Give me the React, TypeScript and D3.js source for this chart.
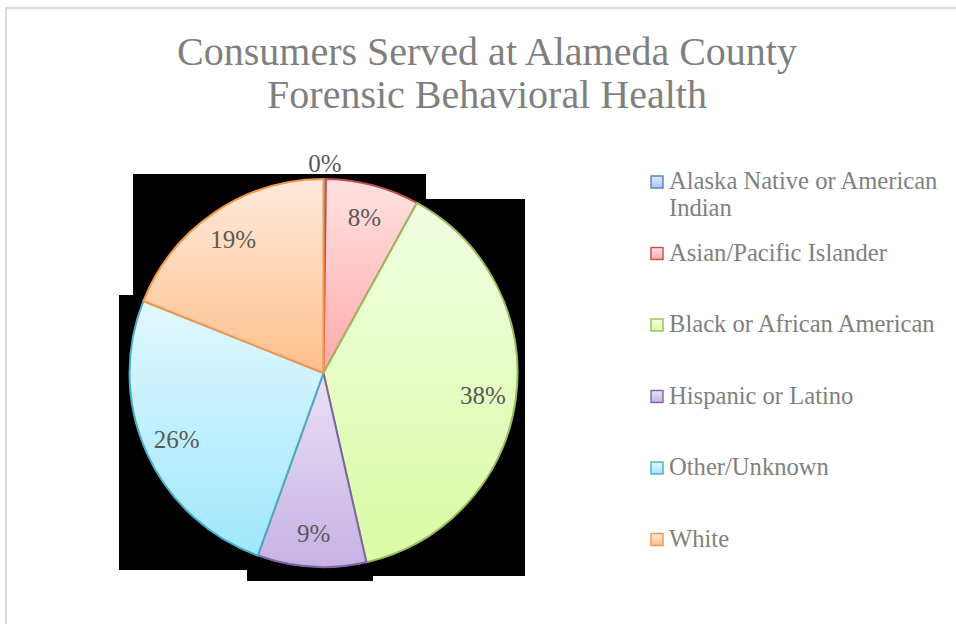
import React from "react";
import * as d3 from "d3";

const categories = [
  "Alaska Native or American Indian",
  "Asian/Pacific Islander",
  "Black or African American",
  "Hispanic or Latino",
  "Other/Unknown",
  "White",
];
const values = [0.2, 7.8, 38.45, 9.05, 25.55, 18.95];
const legendLines = [
  ["Alaska Native or American", "Indian"],
  ["Asian/Pacific Islander"],
  ["Black or African American"],
  ["Hispanic or Latino"],
  ["Other/Unknown"],
  ["White"],
];
const titleLines = ["Consumers Served at Alameda County", "Forensic Behavioral Health"];
const strokeColors = ["#4F81BD", "#C0504D", "#9BBB59", "#8064A2", "#4BACC6", "#F79646"];
const gradTop = ["#dce8fa", "#ffe2e2", "#f1fde2", "#e9e1f5", "#e2f8ff", "#ffeadc"];
const gradBottom = ["#a8c8f4", "#ffa9a9", "#d9fca3", "#c6b2e4", "#9fe7fb", "#fdbf8b"];

const W = 956;
const H = 624;
const cx = 323.5;
const cy = 373;
const R = 194;

export default function App() {
  const total = d3.sum(values);
  const pie = d3.pie<number>().sort(null).value((d) => d);
  const arcs = pie(values);
  const arc = d3.arc<d3.PieArcDatum<number>>().innerRadius(0).outerRadius(R);
  const labelArc = d3.arc<d3.PieArcDatum<number>>().innerRadius(R * 0.83).outerRadius(R * 0.83);
  const fontFamily = "'Liberation Serif', serif";
  const labelSize = 25;

  // black rendering artifact behind the pie (offsets from pie centre)
  const artifact: [number, number][] = [
    [-190.5, -199], [102.5, -199], [102.5, -174], [201.5, -174], [201.5, 203],
    [49.5, 203], [49.5, 208], [-76.5, 208], [-76.5, 197], [-204.5, 197],
    [-204.5, -78], [-190.5, -78],
  ];
  const artifactPath = d3.line()(artifact.map(([x, y]) => [cx + x, cy + y])) + "Z";

  const legendX = 651;
  const legendY0 = 189;
  const legendStep = 71.5;
  const legendSize = 24.6;

  return (
    <svg
      width={W}
      height={H}
      style={{ position: "absolute", left: 0, top: 0, background: "#fff" }}
      fontFamily={fontFamily}
    >
      <defs>
        {categories.map((c, i) => (
          <linearGradient key={c} id={`g${i}`} x1="0" y1="0" x2="0" y2="1">
            <stop offset="0" stopColor={gradTop[i]} />
            <stop offset="1" stopColor={gradBottom[i]} />
          </linearGradient>
        ))}
      </defs>
      <rect x={0} y={0} width={W} height={H} fill="#fff" />
      <path d={`M6,${H}V8H${W}`} fill="none" stroke="#d9d9d9" strokeWidth={2} />
      {titleLines.map((t, i) => (
        <text
          key={t}
          x={487}
          y={65 + i * 43}
          textAnchor="middle"
          fontSize={40}
          fill="#7f7f7f"
        >
          {t}
        </text>
      ))}
      <path d={artifactPath} fill="#000" />
      <g transform={`translate(${cx},${cy})`}>
        {arcs.map((a, i) => (
          <path
            key={categories[i]}
            d={arc(a) || ""}
            fill={`url(#g${i})`}
            stroke={strokeColors[i]}
            strokeWidth={2}
            strokeLinejoin="round"
          />
        ))}
        {arcs.map((a, i) => {
          const pct = Math.round((a.data / total) * 100);
          let [lx, ly] = labelArc.centroid(a);
          if (a.data / total < 0.01) {
            const mid = (a.startAngle + a.endAngle) / 2;
            lx = Math.sin(mid) * (R + 16);
            ly = -Math.cos(mid) * (R + 16);
          }
          return (
            <text
              key={"l" + i}
              x={lx}
              y={ly + labelSize * 0.34}
              textAnchor="middle"
              fontSize={labelSize}
              fill="#595959"
            >
              {pct}%
            </text>
          );
        })}
      </g>
      {categories.map((c, i) => {
        const y = legendY0 + i * legendStep;
        return (
          <g key={"lg" + c}>
            <rect
              x={legendX}
              y={y - 13}
              width={12}
              height={12}
              fill={`url(#g${i})`}
              stroke={strokeColors[i]}
              strokeWidth={1.4}
            />
            <text x={legendX + 18} y={y} fontSize={legendSize} fill="#7f7f7f">
              {legendLines[i].map((ln, j) => (
                <tspan key={j} x={legendX + 18} dy={j === 0 ? 0 : 27}>
                  {ln}
                </tspan>
              ))}
            </text>
          </g>
        );
      })}
    </svg>
  );
}
